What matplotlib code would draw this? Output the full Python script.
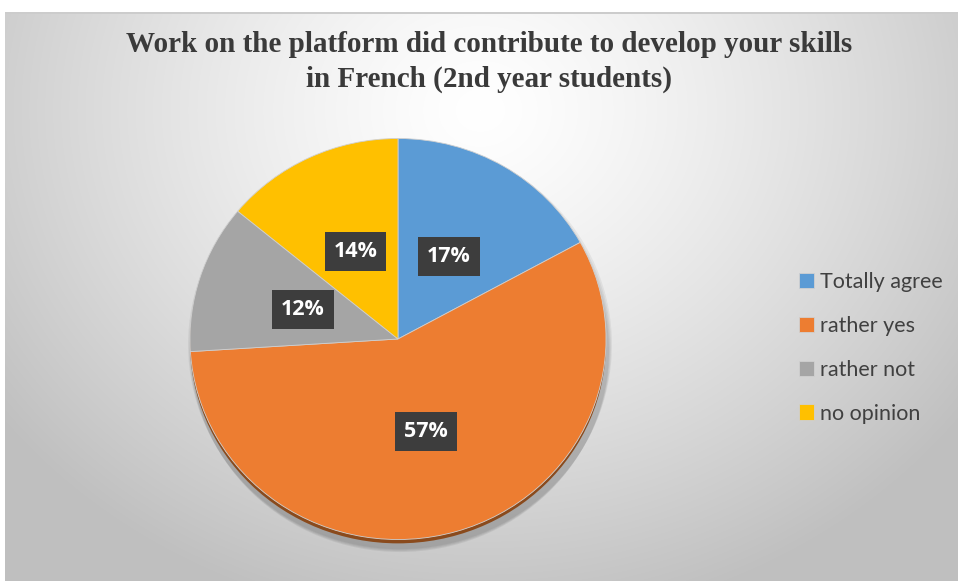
import matplotlib.pyplot as plt
import numpy as np

# data
labels = ["Totally agree", "rather yes", "rather not", "no opinion"]
shares = [17, 57, 12, 14]
colors = ["#5B9BD5", "#ED7D31", "#A5A5A5", "#FFC000"]
title = "Work on the platform did contribute to develop your skills\nin French (2nd year students)"

W, H = 958, 581
fig = plt.figure(figsize=(W / 100, H / 100), dpi=100)

# background: white strips + radial grey gradient
bg = fig.add_axes([0, 0, 1, 1])
bg.set_axis_off()
yy, xx = np.mgrid[0:H, 0:W]
d = np.sqrt(((xx - 480) / 600.0) ** 2 + ((yy - 110) / 520.0) ** 2)
v = 1.0 - 0.25 * np.clip(d, 0, 1) ** 1.3
img = np.dstack([v, v, v])
img[:12, :, :] = 1.0
img[:, :5, :] = 1.0
img[12:14, 5:, :] = 0.8
bg.imshow(img, extent=(0, W, H, 0), aspect="auto", interpolation="bilinear")
bg.set_xlim(0, W)
bg.set_ylim(H, 0)

# pie axes: x in pixels, y slightly stretched so the pie is a bit wider than tall
ky = 0.964
ax = fig.add_axes([0, 0, 1, 1])
ax.set_axis_off()

cx, cy, r = 398, (H - 339) / ky, 208

# soft shadow and dark rim under the pie
for k, a in enumerate([0.05, 0.05, 0.05, 0.06]):
    ax.add_patch(plt.Circle((cx + 2, cy - 6 - k * 2), r + 4 - k, color="black", alpha=a, lw=0))
ax.add_patch(plt.Circle((cx, cy - 4), r, color="#8A4A1C", lw=0))

wedges, texts, autotexts = ax.pie(
    shares, colors=colors, startangle=90, counterclock=False,
    center=(cx, cy), radius=r, autopct="%1.0f%%", pctdistance=0.48,
    wedgeprops=dict(linewidth=0.6, edgecolor="#d0d0d0"),
    textprops=dict(color="white", fontsize=15.5, fontweight="bold", family="Open Sans"),
)
for t in autotexts:
    t.set_bbox(dict(boxstyle="square,pad=0.42", facecolor="#3d3d3d", edgecolor="none"))

ax.set_xlim(0, W)
ax.set_ylim(0, H / ky)
ax.set_aspect("auto")

ax.legend(wedges, labels, loc="center left", bbox_to_anchor=(780 / W, 1 - 348 / H),
          frameon=False, handlelength=0.7, handleheight=0.7,
          handletextpad=0.25, labelspacing=1.1, prop=dict(family="Lato", size=15.5),
          labelcolor="#404040")

fig.text(489 / W, 1 - 62 / H, title, ha="center", va="center", fontsize=21,
         fontweight="bold", family="Liberation Serif", color="#3a3a3a", linespacing=1.35)

fig.savefig("out.png", dpi=100)
